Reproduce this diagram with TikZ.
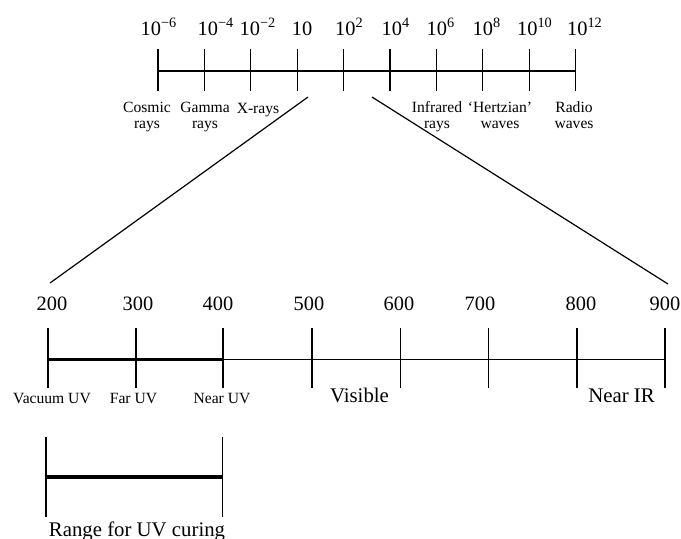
\documentclass[tikz,border=0pt]{standalone}
\usepackage{fontspec}
\setmainfont{Liberation Serif}
\usepackage{tikz}
\usetikzlibrary{calc}

\begin{document}
\begin{tikzpicture}[x=0.5pt, y=-0.5pt, line cap=butt, line join=miter]
\tikzset{
  axis/.style={line width=0.55pt},
  tck/.style={line width=0.65pt},
  band/.style={line width=1.6pt},
  zoomline/.style={line width=0.6pt},
  num/.style={font=\fontsize{10.2}{12}\selectfont, anchor=base, inner sep=0pt},
  lab/.style={font=\fontsize{7.8}{7.6}\selectfont, align=center, anchor=base, inner sep=0pt},
  big/.style={font=\fontsize{10.4}{12}\selectfont, anchor=base, inner sep=0pt},
}
\useasboundingbox (0,0) rectangle (681,538);

% --- full spectrum (top scale)
\coordinate (A0) at (158,71);
\coordinate (A9) at (575.6,71);
\draw[axis] (A0) -- (A9);

\coordinate (a0t) at (158,49);   \coordinate (a0b) at (158,91);
\coordinate (a1t) at (204.4,49); \coordinate (a1b) at (204.4,91);
\coordinate (a2t) at (250.8,49); \coordinate (a2b) at (250.8,91);
\coordinate (a3t) at (297.2,49); \coordinate (a3b) at (297.2,91);
\coordinate (a4t) at (343.6,49); \coordinate (a4b) at (343.6,91);
\coordinate (a5t) at (390,49);   \coordinate (a5b) at (390,91);
\coordinate (a6t) at (436.4,49); \coordinate (a6b) at (436.4,91);
\coordinate (a7t) at (482.8,49); \coordinate (a7b) at (482.8,91);
\coordinate (a8t) at (529.2,49); \coordinate (a8b) at (529.2,91);
\coordinate (a9t) at (575.6,49); \coordinate (a9b) at (575.6,91);

\draw[tck] (a0t) -- (a0b);
\draw[tck] (a1t) -- (a1b);
\draw[tck] (a2t) -- (a2b);
\draw[tck] (a3t) -- (a3b);
\draw[tck] (a4t) -- (a4b);
\draw[tck] (a5t) -- (a5b);
\draw[tck] (a6t) -- (a6b);
\draw[tck] (a7t) -- (a7b);
\draw[tck] (a8t) -- (a8b);
\draw[tck] (a9t) -- (a9b);

\node[num] (n0) at (159,35)   {10\textsuperscript{−6}};
\node[num] (n1) at (216,35)   {10\textsuperscript{−4}};
\node[num] (n2) at (258,35)   {10\textsuperscript{−2}};
\node[num] (n3) at (302,35)   {10};
\node[num] (n4) at (349.5,35) {10\textsuperscript{2}};
\node[num] (n5) at (396,35)   {10\textsuperscript{4}};
\node[num] (n6) at (441,35)   {10\textsuperscript{6}};
\node[num] (n7) at (487,35)   {10\textsuperscript{8}};
\node[num] (n8) at (535,35)   {10\textsuperscript{10}};
\node[num] (n9) at (585,35)   {10\textsuperscript{12}};

% two-line labels: base sits on the second line
\node[lab] (cosmic)  at (147,128) {Cosmic\\rays};
\node[lab] (gamma)   at (205,128) {Gamma\\rays};
\node[lab] (xray)    at (258,113) {X-rays};
\node[lab] (infra)   at (437,128) {Infrared\\rays};
\node[lab] (hertz)   at (500,128) {‘Hertzian’\\waves};
\node[lab] (radio)   at (574,128) {Radio\\waves};

% --- zoom into the UV/visible window
\coordinate (zl) at (308,97);
\coordinate (zr) at (372,97);
\coordinate (zl') at (50,283);
\coordinate (zr') at (668,284);
\draw[zoomline] (zl) -- (zl');
\draw[zoomline] (zr) -- (zr');

% --- wavelength scale (nm)
\coordinate (B0) at (48,359.5);
\coordinate (B2) at (223,359.5);
\coordinate (B7) at (665,359.5);
\draw[axis] (B2) -- (B7);
\draw[band] (B0) -- (B2);

\coordinate (b0t) at (48,328);    \coordinate (b0b) at (48,388);
\coordinate (b1t) at (136,328);   \coordinate (b1b) at (136,388);
\coordinate (b2t) at (223,328);   \coordinate (b2b) at (223,388);
\coordinate (b3t) at (312,328);   \coordinate (b3b) at (312,388);
\coordinate (b4t) at (400.5,328); \coordinate (b4b) at (400.5,388);
\coordinate (b5t) at (488.5,328); \coordinate (b5b) at (488.5,388);
\coordinate (b6t) at (577,328);   \coordinate (b6b) at (577,388);
\coordinate (b7t) at (665,328);   \coordinate (b7b) at (665,388);

\draw[tck] (b0t) -- (b0b);
\draw[tck, line width=0.9pt] (b1t) -- (b1b);
\draw[tck, line width=0.9pt] (b2t) -- (b2b);
\draw[tck] (b3t) -- (b3b);
\draw[tck] (b4t) -- (b4b);
\draw[tck] (b5t) -- (b5b);
\draw[tck, line width=0.9pt] (b6t) -- (b6b);
\draw[tck] (b7t) -- (b7b);

\node[num] (w200) at (52,310)  {200};
\node[num] (w300) at (138,310) {300};
\node[num] (w400) at (218,310) {400};
\node[num] (w500) at (309,310) {500};
\node[num] (w600) at (399,310) {600};
\node[num] (w700) at (480,310) {700};
\node[num] (w800) at (581,310) {800};
\node[num] (w900) at (665,310) {900};

\node[lab] (vuv) at (52,403)    {Vacuum UV};
\node[lab] (fuv) at (133.5,403) {Far UV};
\node[lab] (nuv) at (222,403)   {Near UV};
\node[big] (vis) at (359.5,402) {Visible};
\node[big] (nir) at (621.5,402) {Near IR};

% --- curing range
\coordinate (C0) at (46,477);
\coordinate (C1) at (222.7,477);
\coordinate (c0t) at (46,437);    \coordinate (c0b) at (46,517);
\coordinate (c1t) at (222.7,437); \coordinate (c1b) at (222.7,517);
\draw[band] (C0) -- (C1);
\draw[tck] (c0t) -- (c0b);
\draw[tck] (c1t) -- (c1b);
\node[big] (cure) at (137,536) {Range for UV curing};
\end{tikzpicture}
\end{document}
